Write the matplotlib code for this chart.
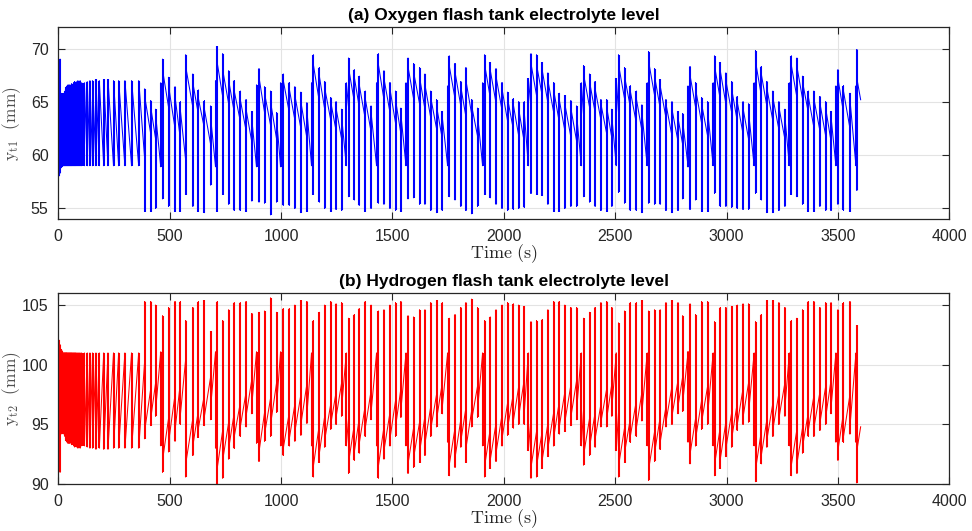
import numpy as np
import matplotlib
matplotlib.use("Agg")
import matplotlib.pyplot as plt

# ---------------- data ----------------
start_t = 0.0
o2_start = 58.0
h2_start = 102.1
end_t = 3602.0
o2_end = 65.2
h2_end = 94.8

# switching events of the level controller (s)
event_t_startup = [2, 8, 12, 15.5, 19, 22.5, 26, 29.5, 33, 36.5, 40, 44, 48, 52, 56, 60,
                   64.5, 69, 73.5, 78, 83, 88, 93, 98, 105, 117, 130, 142, 154, 169, 184,
                   204, 223, 248, 271, 299, 329, 361]
event_t_cyclic = [388, 415, 437, 460, 468, 495, 524, 548, 572, 604, 629, 656, 684, 706, 714,
                  738, 765, 790, 817, 843, 869, 890, 901, 926, 953, 980, 998, 1010, 1037,
                  1062, 1089, 1116, 1137, 1145, 1172, 1196, 1223, 1247, 1272, 1293, 1303,
                  1329, 1351, 1378, 1404, 1429, 1437, 1462, 1489, 1514, 1538, 1561, 1570,
                  1595, 1622, 1646, 1672, 1698, 1724, 1748, 1755, 1781, 1807, 1830, 1856,
                  1882, 1905, 1914, 1939, 1965, 1992, 2017, 2043, 2067, 2092, 2110, 2122,
                  2147, 2173, 2198, 2224, 2249, 2274, 2301, 2327, 2348, 2358, 2385, 2410,
                  2436, 2462, 2485, 2505, 2515, 2542, 2568, 2595, 2620, 2644, 2650, 2677,
                  2702, 2728, 2755, 2782, 2803, 2827, 2836, 2861, 2888, 2915, 2940, 2946,
                  2972, 2997, 3023, 3048, 3074, 3099, 3124, 3130, 3156, 3181, 3208, 3235,
                  3262, 3282, 3291, 3316, 3341, 3367, 3392, 3419, 3445, 3469, 3491, 3500,
                  3525, 3554, 3581, 3585]

# Oxygen tank level (mm): level before event, spike minimum, spike maximum, level after event
o2_pre_startup = [58.0, 58.3, 58.8, 58.9] + [59.0] * 34
o2_low_startup = [58.0, 58.3, 58.8, 58.9] + [59.0] * 34
o2_high_startup = [68.9, 69.0, 65.5, 65.8, 65.7, 65.8, 65.4, 66.0, 66.2, 66.4, 66.5, 66.6,
                   66.4, 66.6, 66.5, 66.7, 66.6, 66.8, 66.9, 66.8, 66.9, 67.0, 66.9, 67.0,
                   66.8, 66.8, 66.9, 67.0, 67.0, 67.1, 67.0, 67.1, 67.1, 67.0, 67.0, 67.0,
                   67.0, 67.0]
o2_post_startup = [65.0, 65.5, 65.5, 65.8, 65.7, 65.8, 65.4, 66.0, 66.2, 66.4, 66.5, 66.6,
                   66.4, 66.6, 66.5, 66.7, 66.6, 66.8, 66.9, 66.8, 66.9, 67.0, 66.9, 67.0,
                   66.8, 66.8, 66.9, 67.0, 67.0, 67.1, 67.0, 67.1, 67.1, 67.0, 67.0, 67.0,
                   67.0, 67.0]

o2_low_cyclic = [54.7, 54.7, 55.0, 58.9, 55.9, 55.2, 54.7, 54.7, 56.3, 55.2, 54.7, 54.6, 57.2,
                 58.9, 54.7, 56.3, 55.4, 54.8, 54.8, 54.7, 55.7, 58.9, 55.6, 55.5, 54.4, 55.6,
                 58.9, 55.3, 55.3, 55.0, 54.6, 54.7, 59.0, 56.3, 55.6, 55.0, 54.7, 54.9, 54.8,
                 59.0, 56.1, 55.8, 55.3, 54.7, 55.0, 59.0, 55.5, 55.4, 55.0, 54.8, 54.7, 59.0,
                 55.9, 56.0, 55.4, 55.4, 54.8, 54.6, 54.8, 59.0, 56.1, 55.8, 55.2, 54.8, 54.5,
                 55.2, 59.0, 56.3, 56.0, 55.4, 55.0, 54.8, 54.9, 55.0, 55.1, 59.0, 56.4, 56.3,
                 56.2, 55.4, 54.7, 54.7, 55.0, 55.2, 55.2, 59.0, 56.1, 55.6, 55.2, 54.8, 54.7,
                 55.2, 59.1, 56.5, 55.5, 54.8, 54.8, 54.6, 59.0, 55.5, 55.4, 55.4, 54.8, 54.6,
                 54.8, 55.9, 58.9, 54.9, 55.8, 54.7, 54.7, 59.0, 56.4, 55.2, 55.2, 55.1, 55.0,
                 54.9, 54.9, 59.0, 56.4, 55.8, 54.6, 54.6, 54.8, 55.2, 59.0, 56.3, 56.1, 55.4,
                 54.7, 54.7, 55.2, 54.8, 54.8, 59.0, 55.4, 54.8, 54.7, 59.0, 56.7]
o2_high_cyclic = [66.2, 65.1, 64.3, 66.8, 69.0, 67.3, 66.4, 65.0, 69.4, 67.6, 66.1, 65.1, 64.6,
                  67.0, 70.2, 69.5, 67.9, 67.0, 66.0, 65.2, 64.1, 66.6, 68.1, 66.4, 66.0, 64.0,
                  66.8, 67.6, 66.8, 66.4, 65.9, 64.9, 66.8, 69.4, 68.2, 66.9, 65.4, 65.0, 64.3,
                  66.8, 69.1, 68.0, 67.4, 66.0, 64.6, 66.8, 69.5, 67.9, 66.8, 66.0, 64.4, 66.8,
                  69.1, 68.6, 68.2, 67.6, 66.0, 65.2, 64.1, 66.5, 69.3, 68.6, 66.9, 68.2, 65.2,
                  64.4, 66.8, 69.4, 68.7, 68.1, 66.8, 65.9, 65.3, 65.0, 65.0, 67.2, 69.5, 69.4,
                  68.7, 67.7, 66.8, 65.8, 65.6, 65.1, 64.6, 66.8, 68.4, 67.6, 66.9, 65.2, 65.2,
                  64.3, 67.2, 69.4, 68.2, 66.5, 66.0, 64.7, 66.8, 69.7, 68.1, 67.1, 65.2, 65.0,
                  64.1, 63.9, 66.5, 68.3, 66.8, 65.4, 65.0, 66.8, 69.3, 68.7, 67.7, 66.9, 65.5,
                  65.0, 64.8, 66.8, 69.8, 68.3, 66.9, 66.0, 65.0, 64.3, 66.8, 69.3, 69.1, 67.4,
                  66.0, 66.0, 65.5, 65.0, 64.1, 66.5, 68.0, 66.5, 65.8, 66.5, 69.9]
o2_pre_cyclic = [59.6, 62.0, 61.5, 58.9, 64.8, 64.5, 62.5, 61.5, 59.5, 64.5, 63.8, 62.5, 61.0,
                 59.0, 65.0, 65.5, 64.8, 64.0, 63.2, 62.3, 61.2, 59.0, 64.3, 64.0, 62.8, 61.5,
                 59.0, 64.5, 64.0, 63.3, 62.5, 61.6, 59.0, 64.8, 65.0, 64.3, 63.3, 62.3, 61.5,
                 59.0, 64.5, 65.0, 64.5, 63.4, 62.2, 59.0, 64.8, 65.2, 64.0, 63.0, 62.0, 59.0,
                 64.5, 65.3, 64.8, 64.3, 63.5, 62.5, 61.5, 59.0, 64.5, 65.3, 64.6, 63.6, 63.8,
                 61.8, 59.0, 64.5, 65.4, 64.9, 64.2, 63.2, 62.4, 61.8, 61.2, 59.0, 64.5, 65.6,
                 65.5, 64.9, 64.0, 63.1, 62.3, 61.7, 61.3, 59.0, 63.8, 64.5, 64.0, 63.3, 62.0,
                 61.6, 59.0, 64.0, 65.3, 64.5, 63.0, 62.3, 59.0, 65.0, 65.6, 64.4, 63.5, 61.8,
                 61.3, 61.0, 59.0, 64.2, 64.5, 63.0, 61.8, 59.0, 65.2, 65.2, 64.8, 64.0, 63.2,
                 62.0, 61.5, 59.0, 65.2, 65.6, 64.6, 63.2, 62.4, 61.5, 59.0, 64.5, 65.4, 65.3,
                 64.0, 62.6, 62.3, 61.8, 61.3, 59.0, 64.0, 64.0, 62.5, 59.0, 65.5]
o2_post_cyclic = [65.5, 64.5, 63.8, 66.8, 68.0, 66.5, 65.5, 64.2, 68.3, 66.8, 65.3, 64.3, 63.5,
                  67.0, 68.6, 68.0, 67.0, 66.0, 65.2, 64.3, 63.3, 66.6, 67.3, 65.8, 65.0, 63.4,
                  66.8, 67.0, 66.2, 65.6, 65.0, 64.2, 66.8, 68.5, 67.4, 66.3, 65.0, 64.4, 63.6,
                  66.8, 68.2, 67.3, 66.6, 65.3, 64.0, 66.8, 68.5, 67.2, 66.2, 65.2, 63.8, 66.8,
                  68.3, 67.8, 67.3, 66.6, 65.4, 64.6, 63.5, 66.5, 68.4, 67.8, 66.4, 67.0, 64.6,
                  63.8, 66.8, 68.5, 68.0, 67.4, 66.2, 65.3, 64.7, 64.3, 64.0, 67.2, 68.6, 68.5,
                  67.9, 67.0, 66.1, 65.2, 64.8, 64.4, 63.8, 66.8, 67.6, 66.9, 66.2, 64.8, 64.5,
                  63.6, 67.2, 68.5, 67.4, 66.0, 65.3, 64.0, 66.8, 68.8, 67.4, 66.5, 64.8, 64.3,
                  63.5, 63.2, 66.5, 67.5, 66.2, 64.8, 64.2, 66.8, 68.4, 67.9, 67.0, 66.2, 65.0,
                  64.4, 64.0, 66.8, 68.8, 67.6, 66.3, 65.4, 64.5, 63.6, 66.8, 68.4, 68.3, 66.9,
                  65.5, 65.3, 64.9, 64.4, 63.6, 66.5, 67.2, 66.0, 65.2, 66.5, 67.2]

# Hydrogen tank level (mm): level before event, spike maximum, spike minimum, level after event
h2_pre_startup = [102.1, 101.7, 101.3, 101.2] + [101.0] * 34
h2_high_startup = [102.1, 101.7, 101.3, 101.2] + [101.0] * 34
h2_low_startup = [91.8, 91.0, 94.5, 94.2, 94.3, 94.2, 94.6, 94.0, 93.8, 93.6, 93.5, 93.4,
                  93.6, 93.4, 93.5, 93.3, 93.4, 93.2, 93.1, 93.2, 93.1, 93.0, 93.1, 93.0,
                  93.2, 93.2, 93.1, 93.0, 93.0, 92.9, 93.0, 92.9, 92.9, 93.0, 93.0, 93.0,
                  93.0, 93.0]
h2_post_startup = [95.0, 94.5, 94.5, 94.2, 94.3, 94.2, 94.6, 94.0, 93.8, 93.6, 93.5, 93.4,
                   93.6, 93.4, 93.5, 93.3, 93.4, 93.2, 93.1, 93.2, 93.1, 93.0, 93.1, 93.0,
                   93.2, 93.2, 93.1, 93.0, 93.0, 92.9, 93.0, 92.9, 92.9, 93.0, 93.0, 93.0,
                   93.0, 93.0]

h2_pre_cyclic = [100.4, 98.0, 98.5, 101.1, 95.2, 95.5, 97.5, 98.5, 100.5, 95.5, 96.2, 97.5,
                 99.0, 101.0, 95.0, 94.5, 95.2, 96.0, 96.8, 97.7, 98.8, 101.0, 95.7, 96.0,
                 97.2, 98.5, 101.0, 95.5, 96.0, 96.7, 97.5, 98.4, 101.0, 95.2, 95.0, 95.7,
                 96.7, 97.7, 98.5, 101.0, 95.5, 95.0, 95.5, 96.6, 97.8, 101.0, 95.2, 94.8,
                 96.0, 97.0, 98.0, 101.0, 95.5, 94.7, 95.2, 95.7, 96.5, 97.5, 98.5, 101.0,
                 95.5, 94.7, 95.4, 96.4, 96.2, 98.2, 101.0, 95.5, 94.6, 95.1, 95.8, 96.8,
                 97.6, 98.2, 98.8, 101.0, 95.5, 94.4, 94.5, 95.1, 96.0, 96.9, 97.7, 98.3,
                 98.7, 101.0, 96.2, 95.5, 96.0, 96.7, 98.0, 98.4, 101.0, 96.0, 94.7, 95.5,
                 97.0, 97.7, 101.0, 95.0, 94.4, 95.6, 96.5, 98.2, 98.7, 99.0, 101.0, 95.8,
                 95.5, 97.0, 98.2, 101.0, 94.8, 94.8, 95.2, 96.0, 96.8, 98.0, 98.5, 101.0,
                 94.8, 94.4, 95.4, 96.8, 97.6, 98.5, 101.0, 95.5, 94.6, 94.7, 96.0, 97.4,
                 97.7, 98.2, 98.7, 101.0, 96.0, 96.0, 97.5, 101.0, 94.5]
h2_high_cyclic = [105.3, 105.3, 105.0, 101.1, 104.1, 104.8, 105.3, 105.3, 103.7, 104.8, 105.3,
                  105.4, 102.8, 101.1, 105.3, 103.7, 104.6, 105.2, 105.2, 105.3, 104.3, 101.1,
                  104.4, 104.5, 105.6, 104.4, 101.1, 104.7, 104.7, 105.0, 105.4, 105.3, 101.0,
                  103.7, 104.4, 105.0, 105.3, 105.1, 105.2, 101.0, 103.9, 104.2, 104.7, 105.3,
                  105.0, 101.0, 104.5, 104.6, 105.0, 105.2, 105.3, 101.0, 104.1, 104.0, 104.6,
                  104.6, 105.2, 105.4, 105.2, 101.0, 103.9, 104.2, 104.8, 105.2, 105.5, 104.8,
                  101.0, 103.7, 104.0, 104.6, 105.0, 105.2, 105.1, 105.0, 104.9, 101.0, 103.6,
                  103.7, 103.8, 104.6, 105.3, 105.3, 105.0, 104.8, 104.8, 101.0, 103.9, 104.4,
                  104.8, 105.2, 105.3, 104.8, 100.9, 103.5, 104.5, 105.2, 105.2, 105.4, 101.0,
                  104.5, 104.6, 104.6, 105.2, 105.4, 105.2, 104.1, 101.1, 105.1, 104.2, 105.3,
                  105.3, 101.0, 103.6, 104.8, 104.8, 104.9, 105.0, 105.1, 105.1, 101.0, 103.6,
                  104.2, 105.4, 105.4, 105.2, 104.8, 101.0, 103.7, 103.9, 104.6, 105.3, 105.3,
                  104.8, 105.2, 105.2, 101.0, 104.6, 105.2, 105.3, 101.0, 103.3]
h2_low_cyclic = [93.8, 94.9, 95.7, 93.2, 91.0, 92.7, 93.6, 95.0, 90.6, 92.4, 93.9, 94.9, 95.4,
                 93.0, 89.8, 90.5, 92.1, 93.0, 94.0, 94.8, 95.9, 93.4, 91.9, 93.6, 94.0, 96.0,
                 93.2, 92.4, 93.2, 93.6, 94.1, 95.1, 93.2, 90.6, 91.8, 93.1, 94.6, 95.0, 95.7,
                 93.2, 90.9, 92.0, 92.6, 94.0, 95.4, 93.2, 90.5, 92.1, 93.2, 94.0, 95.6, 93.2,
                 90.9, 91.4, 91.8, 92.4, 94.0, 94.8, 95.9, 93.5, 90.7, 91.4, 93.1, 91.8, 94.8,
                 95.6, 93.2, 90.6, 91.3, 91.9, 93.2, 94.1, 94.7, 95.0, 95.0, 92.8, 90.5, 90.6,
                 91.3, 92.3, 93.2, 94.2, 94.4, 94.9, 95.4, 93.2, 91.6, 92.4, 93.1, 94.8, 94.8,
                 95.7, 92.8, 90.6, 91.8, 93.5, 94.0, 95.3, 93.2, 90.3, 91.9, 92.9, 94.8, 95.0,
                 95.9, 96.1, 93.5, 91.7, 93.2, 94.6, 95.0, 93.2, 90.7, 91.3, 92.3, 93.1, 94.5,
                 95.0, 95.2, 93.2, 90.2, 91.7, 93.1, 94.0, 95.0, 95.7, 93.2, 90.7, 90.9, 92.6,
                 94.0, 94.0, 94.5, 95.0, 95.9, 93.5, 92.0, 93.5, 94.2, 93.5, 90.1]
h2_post_cyclic = [94.5, 95.5, 96.2, 93.2, 92.0, 93.5, 94.5, 95.8, 91.7, 93.2, 94.7, 95.7, 96.5,
                  93.0, 91.4, 92.0, 93.0, 94.0, 94.8, 95.7, 96.7, 93.4, 92.7, 94.2, 95.0, 96.6,
                  93.2, 93.0, 93.8, 94.4, 95.0, 95.8, 93.2, 91.5, 92.6, 93.7, 95.0, 95.6, 96.4,
                  93.2, 91.8, 92.7, 93.4, 94.7, 96.0, 93.2, 91.5, 92.8, 93.8, 94.8, 96.2, 93.2,
                  91.7, 92.2, 92.7, 93.4, 94.6, 95.4, 96.5, 93.5, 91.6, 92.2, 93.6, 93.0, 95.4,
                  96.2, 93.2, 91.5, 92.0, 92.6, 93.8, 94.7, 95.3, 95.7, 96.0, 92.8, 91.4, 91.5,
                  92.1, 93.0, 93.9, 94.8, 95.2, 95.6, 96.2, 93.2, 92.4, 93.1, 93.8, 95.2, 95.5,
                  96.4, 92.8, 91.5, 92.6, 94.0, 94.7, 96.0, 93.2, 91.2, 92.6, 93.5, 95.2, 95.7,
                  96.5, 96.8, 93.5, 92.5, 93.8, 95.2, 95.8, 93.2, 91.6, 92.1, 93.0, 93.8, 95.0,
                  95.6, 96.0, 93.2, 91.2, 92.4, 93.7, 94.6, 95.5, 96.4, 93.2, 91.6, 91.7, 93.1,
                  94.5, 94.7, 95.1, 95.6, 96.4, 93.5, 92.8, 94.0, 94.8, 93.5, 92.8]

event_t = event_t_startup + event_t_cyclic
o2_pre = o2_pre_startup + o2_pre_cyclic
o2_low = o2_low_startup + o2_low_cyclic
o2_high = o2_high_startup + o2_high_cyclic
o2_post = o2_post_startup + o2_post_cyclic
h2_pre = h2_pre_startup + h2_pre_cyclic
h2_high = h2_high_startup + h2_high_cyclic
h2_low = h2_low_startup + h2_low_cyclic
h2_post = h2_post_startup + h2_post_cyclic


def build_path(times, pre, first, second, post, t0, y0, t1, y1):
    xs, ys = [t0], [y0]
    for t, a, b, c, d in zip(times, pre, first, second, post):
        xs += [t, t, t, t]
        ys += [a, b, c, d]
    xs.append(t1)
    ys.append(y1)
    return np.array(xs, float), np.array(ys, float)


o2_x, o2_y = build_path(event_t, o2_pre, o2_low, o2_high, o2_post, start_t, o2_start, end_t, o2_end)
h2_x, h2_y = build_path(event_t, h2_pre, h2_high, h2_low, h2_post, start_t, h2_start, end_t, h2_end)

# ---------------- figure ----------------
W, H = 972, 531
fig = plt.figure(figsize=(W / 100, H / 100), dpi=100)
plt.rcParams['font.family'] = ['Liberation Sans', 'DejaVu Sans']
plt.rcParams['mathtext.fontset'] = 'cm'

ax1 = fig.add_axes([58.3 / W, 1 - 219 / H, 891 / W, (219 - 27.3) / H])
ax2 = fig.add_axes([58.3 / W, 1 - 484 / H, 891 / W, (484 - 293.3) / H])

panels = [
    (ax1, o2_x, o2_y, event_t, o2_low, o2_high, '#0000ff', (54, 72), [55, 60, 65, 70],
     '(a) Oxygen flash tank electrolyte level', r'$\mathrm{y}_{\mathrm{t1}}\ \ \mathrm{(mm)}$'),
    (ax2, h2_x, h2_y, event_t, h2_low, h2_high, '#ff0000', (90, 106), [90, 95, 100, 105],
     '(b) Hydrogen flash tank electrolyte level', r'$\mathrm{y}_{\mathrm{t2}}\ \ \mathrm{(mm)}$'),
]

for ax, x, y, et, lo, hi, col, ylim, yt, title, ylab in panels:
    ax.plot(x, y, color=col, lw=0.75)
    ax.vlines(et, lo, hi, color=col, lw=1.5)
    ax.set_xlim(0, 4000)
    ax.set_ylim(*ylim)
    ax.set_xticks(np.arange(0, 4001, 500))
    ax.set_yticks(yt)
    ax.grid(True, color='#e3e3e3', lw=0.8)
    ax.set_axisbelow(True)
    ax.tick_params(direction='in', length=5, width=0.8, top=True, right=True,
                   labelsize=11.5, colors='#262626', pad=7)
    for s in ax.spines.values():
        s.set_color('#262626')
        s.set_linewidth(0.9)
    ax.set_title(title, fontsize=12.5, fontweight='bold', pad=5)
    ax.set_xlabel(r'$\mathrm{Time\ (s)}$', fontsize=13, color='#262626', labelpad=-1)
    ax.set_ylabel(ylab, fontsize=12.5, color='#505050')
    ax.yaxis.set_label_coords(-0.04, 0.5)

fig.savefig('out.png', dpi=100)
